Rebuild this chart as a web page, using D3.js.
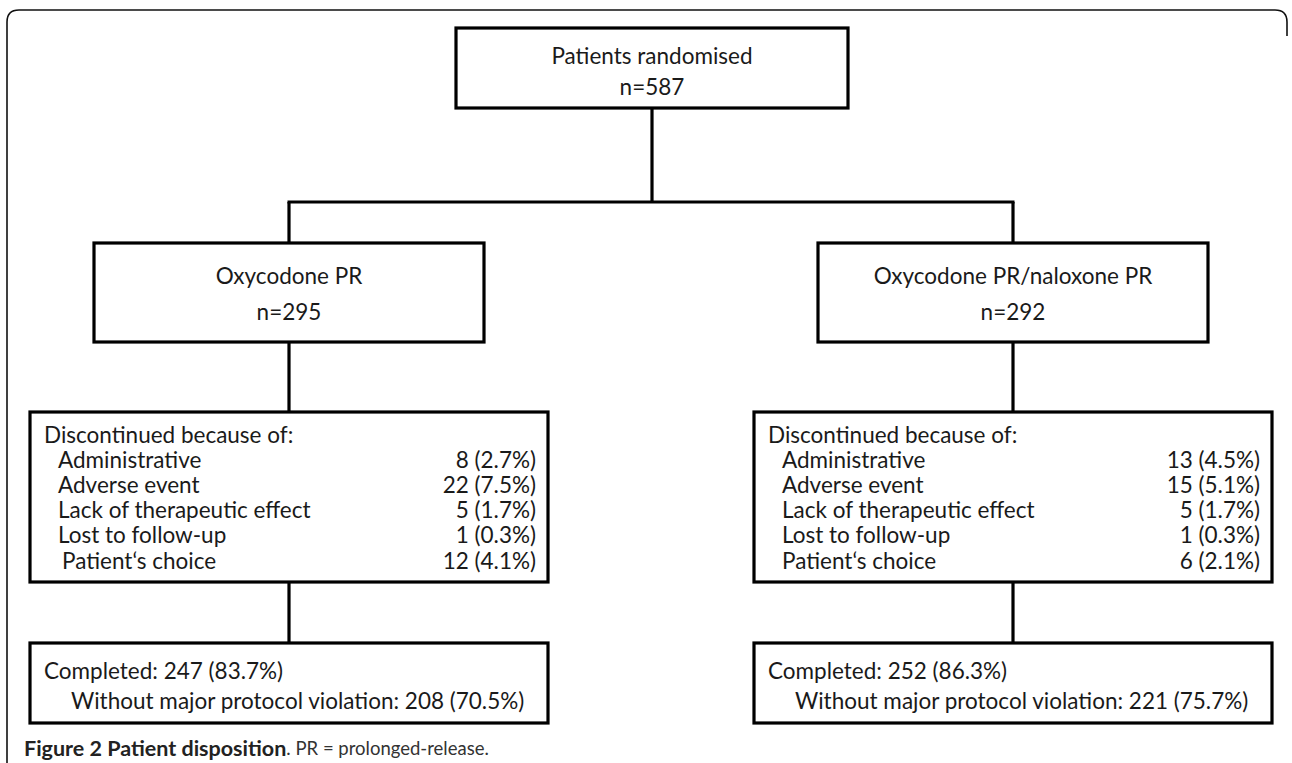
<!DOCTYPE html>
<html>
<head>
<meta charset="utf-8">
<script src="https://cdn.jsdelivr.net/npm/d3@7"></script>
<style>
  body { margin: 0; background: #fff; }
  svg { display: block; }
  text { font-family: Lato, "Open Sans", sans-serif; fill: #1a1a1a; }
</style>
</head>
<body>
<svg></svg>
<script>
// data
var total = 587;
var arms = ["Oxycodone PR", "Oxycodone PR/naloxone PR"];
var armN = [295, 292];
var reasons = ["Administrative", "Adverse event", "Lack of therapeutic effect", "Lost to follow-up", "Patient\u2018s choice"];
var discCount = [[8, 22, 5, 1, 12], [13, 15, 5, 1, 6]];
var discPct = [[2.7, 7.5, 1.7, 0.3, 4.1], [4.5, 5.1, 1.7, 0.3, 2.1]];
var completed = [247, 252];
var completedPct = [83.7, 86.3];
var noViolation = [208, 221];
var noViolationPct = [70.5, 75.7];

var svgWidth = 1292, svgHeight = 763;
var svg = d3.select("svg").attr("width", svgWidth).attr("height", svgHeight);

// arm centres
var x = d3.scalePoint().domain(arms).range([289, 1013]);
var topX = 652;
var fs = 22.5;

// outer frame (open at the bottom / right)
svg.append("path")
    .attr("d", "M1287,36 L1287,22 Q1287,10 1275,10 L19,10 Q7,10 7,22 L7,763")
    .attr("fill", "none").attr("stroke", "#111").attr("stroke-width", 1.6);

function line(x1, y1, x2, y2) {
    svg.append("line")
        .attr("x1", x1).attr("y1", y1).attr("x2", x2).attr("y2", y2)
        .attr("stroke", "#000").attr("stroke-width", 3.2);
}

// connectors
line(topX, 108, topX, 202);
line(x(arms[0]) - 1.5, 202, x(arms[1]) + 1.5, 202);
arms.forEach(function (a) {
    line(x(a), 202, x(a), 243);
    line(x(a), 342, x(a), 412);
    line(x(a), 582, x(a), 643);
});

// top box
svg.append("rect").attr("x", topX - 196).attr("y", 28).attr("width", 392).attr("height", 80)
    .attr("fill", "#fff").attr("stroke", "#000").attr("stroke-width", 3.2);
svg.append("text").attr("x", topX).attr("y", 55).attr("text-anchor", "middle")
    .attr("dominant-baseline", "central").style("font-size", fs + "px").text("Patients randomised");
svg.append("text").attr("x", topX).attr("y", 86).attr("text-anchor", "middle")
    .attr("dominant-baseline", "central").style("font-size", fs + "px").text("n=" + total);

// arm boxes
var armBox = svg.selectAll(".arm").data(arms).enter().append("g").attr("class", "arm");
armBox.append("rect")
    .attr("x", function (d) { return x(d) - 195; }).attr("y", 243)
    .attr("width", 390).attr("height", 99)
    .attr("fill", "#fff").attr("stroke", "#000").attr("stroke-width", 3.2);
armBox.append("text").attr("x", function (d) { return x(d); }).attr("y", 275)
    .attr("text-anchor", "middle").attr("dominant-baseline", "central")
    .style("font-size", fs + "px").text(function (d) { return d; });
armBox.append("text").attr("x", function (d) { return x(d); }).attr("y", 311)
    .attr("text-anchor", "middle").attr("dominant-baseline", "central")
    .style("font-size", fs + "px").text(function (d, i) { return "n=" + armN[i]; });

// discontinued and completed boxes
var row = d3.scaleLinear().domain([0, 5]).range([434, 560]);
arms.forEach(function (a, i) {
    var left = x(a) - 259, right = x(a) + 259;
    svg.append("rect").attr("x", left).attr("y", 412).attr("width", right - left).attr("height", 170)
        .attr("fill", "#fff").attr("stroke", "#000").attr("stroke-width", 3.2);
    svg.append("text").attr("x", left + 14).attr("y", row(0)).attr("dominant-baseline", "central")
        .style("font-size", fs + "px").text("Discontinued because of:");
    var g = svg.append("g");
    g.selectAll(".lbl").data(reasons).enter().append("text")
        .attr("x", function (d, j) { return left + (i === 0 && j === 4 ? 32 : 28); })
        .attr("y", function (d, j) { return row(j + 1); })
        .attr("dominant-baseline", "central").style("font-size", fs + "px")
        .text(function (d) { return d; });
    g.selectAll(".val").data(discCount[i]).enter().append("text")
        .attr("x", right - 12)
        .attr("y", function (d, j) { return row(j + 1); })
        .attr("text-anchor", "end").attr("dominant-baseline", "central").style("font-size", fs + "px")
        .text(function (d, j) { return d + " (" + discPct[i][j].toFixed(1) + "%)"; });

    svg.append("rect").attr("x", left).attr("y", 643).attr("width", right - left).attr("height", 80)
        .attr("fill", "#fff").attr("stroke", "#000").attr("stroke-width", 3.2);
    svg.append("text").attr("x", left + 14).attr("y", 670).attr("dominant-baseline", "central")
        .style("font-size", fs + "px")
        .text("Completed: " + completed[i] + " (" + completedPct[i].toFixed(1) + "%)");
    svg.append("text").attr("x", left + 41).attr("y", 700).attr("dominant-baseline", "central")
        .style("font-size", fs + "px")
        .text("Without major protocol violation: " + noViolation[i] + " (" + noViolationPct[i].toFixed(1) + "%)");
});

// caption
var cap = svg.append("text").attr("x", 24).attr("y", 748).attr("dominant-baseline", "central")
    .style("font-size", "18.5px").style("fill", "#333");
cap.append("tspan").style("font-weight", "bold").style("font-size", "21.5px").style("fill", "#222")
    .text("Figure 2 Patient disposition");
cap.append("tspan").text(". PR = prolonged-release.");
</script>
</body>
</html>
